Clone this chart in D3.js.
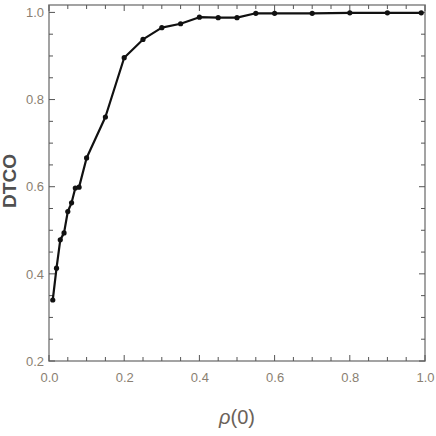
<!DOCTYPE html>
<html>
<head>
<meta charset="utf-8">
<script src="https://cdn.jsdelivr.net/npm/d3@7"></script>
<style>
  body { margin: 0; background: #fff; }
  svg { display: block; }
  .tick text { font-family: "Liberation Sans", Arial, sans-serif; font-size: 13px; fill: #8a7f72; }
</style>
</head>
<body>
<svg id="chart" width="436" height="436"></svg>
<script>
// values
let rho0 = [0.01, 0.02, 0.03, 0.04, 0.05, 0.06, 0.07, 0.08, 0.1, 0.15, 0.2, 0.25, 0.3, 0.35, 0.4, 0.45, 0.5, 0.55, 0.6, 0.7, 0.8, 0.9, 0.99];
let dtco = [0.34, 0.413, 0.478, 0.494, 0.543, 0.563, 0.597, 0.599, 0.666, 0.760, 0.896, 0.938, 0.965, 0.974, 0.989, 0.988, 0.988, 0.998, 0.998, 0.998, 0.999, 0.999, 0.999];
let xTicks = [0, 0.2, 0.4, 0.6, 0.8, 1.0];
let yTicks = [0.2, 0.4, 0.6, 0.8, 1.0];

let svg = d3.select("#chart");
let margin = { left: 49, right: 11, top: 5, bottom: 75 },
    width = 436 - margin.left - margin.right,
    height = 436 - margin.top - margin.bottom;

let x = d3.scaleLinear().domain([0, 1]).range([margin.left, margin.left + width]);
let y = d3.scaleLinear().domain([0.2, 1.017]).range([margin.top + height, margin.top]);

let frameColor = "#8c8c8c";

// minor ticks every 0.05
let xMinor = d3.range(0, 1.0001, 0.05);
let yMinor = d3.range(0.2, 1.0001, 0.05);

// frame
svg.append("rect")
    .attr("x", margin.left).attr("y", margin.top)
    .attr("width", width).attr("height", height)
    .attr("fill", "none").attr("stroke", frameColor).attr("stroke-width", 1.6);

function isMajor(v) { return Math.abs(v * 5 - Math.round(v * 5)) < 1e-6; }

let ticks = svg.append("g").attr("stroke", "#555").attr("stroke-width", 1);
xMinor.forEach(function(v) {
    let len = isMajor(v) ? 6 : 4;
    ticks.append("line").attr("x1", x(v)).attr("x2", x(v))
        .attr("y1", margin.top + height).attr("y2", margin.top + height - len);
    ticks.append("line").attr("x1", x(v)).attr("x2", x(v))
        .attr("y1", margin.top).attr("y2", margin.top + len);
});
yMinor.forEach(function(v) {
    let len = isMajor(v) ? 6 : 4;
    ticks.append("line").attr("y1", y(v)).attr("y2", y(v))
        .attr("x1", margin.left).attr("x2", margin.left + len);
    ticks.append("line").attr("y1", y(v)).attr("y2", y(v))
        .attr("x1", margin.left + width).attr("x2", margin.left + width - len);
});

// tick labels through d3 axes, lines hidden
let xAxis = svg.append("g")
    .attr("transform", "translate(0," + (margin.top + height) + ")")
    .call(d3.axisBottom(x).tickValues(xTicks).tickFormat(d3.format(".1f")).tickSize(0).tickPadding(12));
let yAxis = svg.append("g")
    .attr("transform", "translate(" + margin.left + ",0)")
    .call(d3.axisLeft(y).tickValues(yTicks).tickFormat(d3.format(".1f")).tickSize(0).tickPadding(5));
xAxis.select(".domain").remove();
yAxis.select(".domain").remove();

// data
let pts = rho0.map(function(d, i) { return [d, dtco[i]]; });
svg.append("path")
    .datum(pts)
    .attr("fill", "none").attr("stroke", "#111").attr("stroke-width", 2.2)
    .attr("stroke-linejoin", "round")
    .attr("d", d3.line().x(function(d) { return x(d[0]); }).y(function(d) { return y(d[1]); }));

svg.append("g").selectAll("circle")
    .data(pts).enter().append("circle")
    .attr("cx", function(d) { return x(d[0]); })
    .attr("cy", function(d) { return y(d[1]); })
    .attr("r", 2.6)
    .attr("fill", "#111");

// axis titles
svg.append("text")
    .attr("transform", "translate(16,181) rotate(-90)")
    .attr("text-anchor", "middle")
    .style("font-family", "Liberation Sans, Arial, sans-serif")
    .style("font-weight", "bold").style("font-size", "19px")
    .attr("fill", "#505050")
    .text("DTCO");

svg.append("text")
    .attr("x", 237).attr("y", 424)
    .attr("text-anchor", "middle")
    .style("font-family", "Liberation Sans, Arial, sans-serif")
    .style("font-size", "20px")
    .attr("fill", "#6b6259")
    .html('<tspan font-style="italic">ρ</tspan>(0)');
</script>
</body>
</html>
